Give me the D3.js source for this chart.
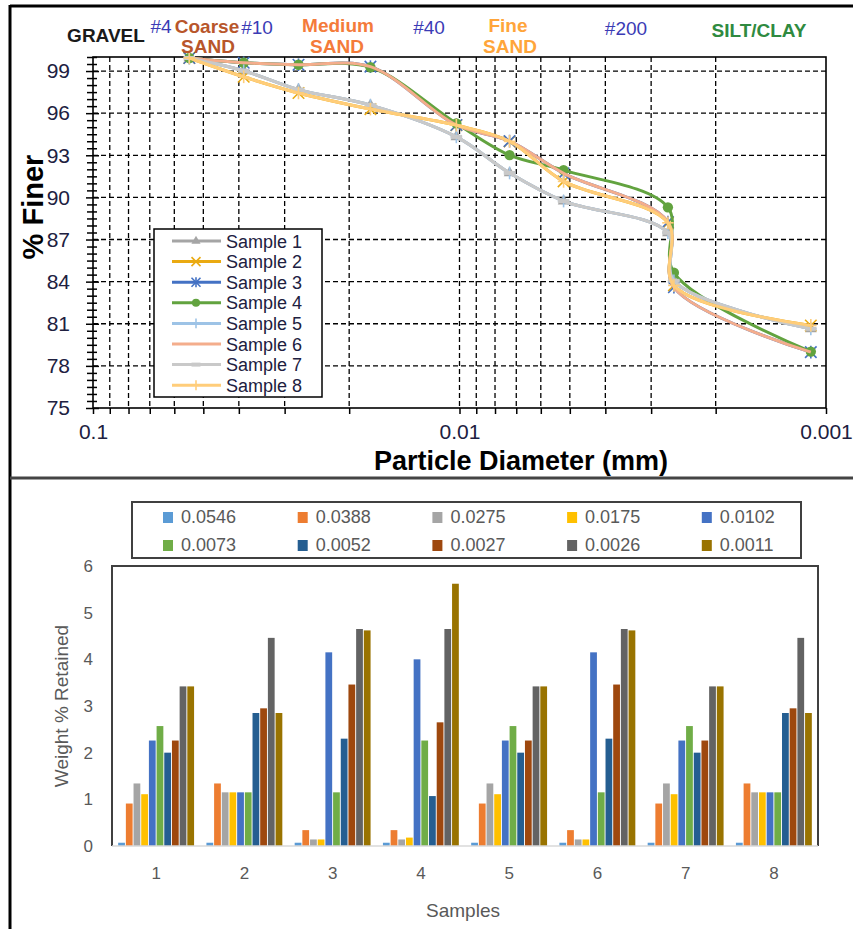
<!DOCTYPE html>
<html>
<head>
<meta charset="utf-8">
<script src="https://cdn.jsdelivr.net/npm/d3@7"></script>
<style>
	body { margin: 0; background: #fff; }
	svg { display: block; font-family: "Liberation Sans", Arial, sans-serif; }
</style>
</head>
<body>
<svg id="chart" width="853" height="929"></svg>
<script>
// particle sizes (mm), same for both charts
let diameters = [0.0546, 0.0388, 0.0275, 0.0175, 0.0102, 0.0073, 0.0052, 0.0027, 0.0026, 0.0011];
let sizeLabels = ['0.0546', '0.0388', '0.0275', '0.0175', '0.0102', '0.0073', '0.0052', '0.0027', '0.0026', '0.0011'];
let sampleNames = ['Sample 1', 'Sample 2', 'Sample 3', 'Sample 4', 'Sample 5', 'Sample 6', 'Sample 7', 'Sample 8'];
let sampleNums = ['1', '2', '3', '4', '5', '6', '7', '8'];

// % finer
let finer1 = [99.93, 99.02, 97.68, 96.57, 94.31, 91.74, 89.74, 87.48, 84.06, 80.64];
let finer2 = [99.93, 98.59, 97.44, 96.29, 95.14, 93.99, 91.14, 88.19, 83.73, 80.88];
let finer3 = [99.93, 99.59, 99.45, 99.31, 95.16, 94.01, 91.71, 88.25, 83.60, 78.98];
let finer4 = [99.93, 99.59, 99.45, 99.27, 95.27, 93.01, 91.94, 89.29, 84.64, 79.02];
let finer5 = [99.93, 99.02, 97.68, 96.57, 94.31, 91.74, 89.74, 87.48, 84.06, 80.64];
let finer6 = [99.93, 99.59, 99.45, 99.31, 95.16, 94.01, 91.71, 88.25, 83.60, 78.98];
let finer7 = [99.93, 99.02, 97.68, 96.57, 94.31, 91.74, 89.74, 87.48, 84.06, 80.64];
let finer8 = [99.93, 98.59, 97.44, 96.29, 95.14, 93.99, 91.14, 88.19, 83.73, 80.88];
let finerAll = [finer1, finer2, finer3, finer4, finer5, finer6, finer7, finer8];

// weight % retained per size, one array per sample
let retained1 = [0.07, 0.91, 1.34, 1.11, 2.26, 2.57, 2.00, 2.26, 3.42, 3.42];
let retained2 = [0.07, 1.34, 1.15, 1.15, 1.15, 1.15, 2.85, 2.95, 4.46, 2.85];
let retained3 = [0.07, 0.34, 0.14, 0.14, 4.15, 1.15, 2.30, 3.46, 4.65, 4.62];
let retained4 = [0.07, 0.34, 0.14, 0.18, 4.00, 2.26, 1.07, 2.65, 4.65, 5.62];
let retained5 = [0.07, 0.91, 1.34, 1.11, 2.26, 2.57, 2.00, 2.26, 3.42, 3.42];
let retained6 = [0.07, 0.34, 0.14, 0.14, 4.15, 1.15, 2.30, 3.46, 4.65, 4.62];
let retained7 = [0.07, 0.91, 1.34, 1.11, 2.26, 2.57, 2.00, 2.26, 3.42, 3.42];
let retained8 = [0.07, 1.34, 1.15, 1.15, 1.15, 1.15, 2.85, 2.95, 4.46, 2.85];
let retainedAll = [retained1, retained2, retained3, retained4, retained5, retained6, retained7, retained8];

let finerTicks = [75, 78, 81, 84, 87, 90, 93, 96, 99];
let diameterLabels = ['0.1', '0.01', '0.001'];
let diameterLabelValues = [0.1, 0.01, 0.001];
let retainedTicks = [0, 1, 2, 3, 4, 5, 6];

// styles
let lineColors = ['#a5a5a5', '#eaaa12', '#4472c4', '#62a33f', '#9dc3e6', '#f4ad8c', '#c9c9c9', '#ffcd7a'];
let markers = ['triangle', 'cross', 'star', 'circle', 'plus', 'none', 'dash', 'plus'];
let barColors = ['#5b9bd5', '#ed7d31', '#a5a5a5', '#ffc000', '#4472c4', '#70ad47', '#255e91', '#9e480e', '#636363', '#997300'];

let svg = d3.select('#chart');

// outer frame of the picture
svg.append('line').attr('x1', 10).attr('x2', 853).attr('y1', 6).attr('y2', 6).attr('stroke', '#000').attr('stroke-width', 3);
svg.append('line').attr('x1', 10).attr('x2', 10).attr('y1', 5).attr('y2', 929).attr('stroke', '#000').attr('stroke-width', 3);
svg.append('line').attr('x1', 10).attr('x2', 853).attr('y1', 478).attr('y2', 478).attr('stroke', '#444').attr('stroke-width', 3);

gradation();
retainedBars();

// The gradation curves (top)
function gradation() {
	let left = 93, right = 826, top = 57, bottom = 408;
	let xScale = d3.scaleLog().domain([0.1, 0.001]).range([left, right]);
	let yScale = d3.scaleLinear().domain([75, 100]).range([bottom, top]);
	let g = svg.append('g');

	// dashed grid
	let logTicks = xScale.ticks().filter((d) => d < 0.0999 && d > 0.00101);
	g.selectAll('.vgrid').data(logTicks).enter().append('line')
		.attr('x1', (d) => xScale(d)).attr('x2', (d) => xScale(d))
		.attr('y1', top).attr('y2', bottom)
		.attr('stroke', '#000').attr('stroke-width', 1.3).attr('stroke-dasharray', '5,3');
	g.selectAll('.hgrid').data(finerTicks.slice(1)).enter().append('line')
		.attr('x1', left).attr('x2', right)
		.attr('y1', (d) => yScale(d)).attr('y2', (d) => yScale(d))
		.attr('stroke', '#000').attr('stroke-width', 1.3).attr('stroke-dasharray', '5,3');

	// x axis: a tick at every log step, labels on the decades
	let labelFor = (d) => {
		let k = diameterLabelValues.findIndex((v) => Math.abs(v - d) < 1e-9);
		return k < 0 ? '' : diameterLabels[k];
	};
	let xAxis = d3.axisBottom(xScale).tickValues(xScale.ticks()).tickSize(6).tickSizeOuter(0).tickPadding(10).tickFormat(labelFor);
	let xg = g.append('g').attr('transform', 'translate(0,' + bottom + ')').call(xAxis);
	xg.select('.domain').remove();
	xg.selectAll('line').attr('stroke', '#000').attr('stroke-width', 1.5);
	xg.selectAll('text').attr('font-size', 21).attr('fill', '#202040');

	// y axis with ticks crossing the axis line
	let minor = d3.range(75, 100.01, 0.5);
	let yAxis = d3.axisLeft(yScale).tickValues(minor).tickSize(6).tickSizeOuter(0).tickPadding(17)
		.tickFormat((d) => finerTicks.includes(d) ? d : '');
	let yg = g.append('g').attr('transform', 'translate(' + left + ',0)').call(yAxis);
	yg.select('.domain').remove();
	yg.selectAll('.tick line').attr('x2', (d) => finerTicks.includes(d) ? -7 : -6).attr('x1', (d) => finerTicks.includes(d) ? 6 : 4)
		.attr('stroke', '#000').attr('stroke-width', 1.5);
	yg.selectAll('text').attr('font-size', 21).attr('fill', '#202040');

	// frame
	g.append('rect').attr('x', left).attr('y', top).attr('width', right - left).attr('height', bottom - top)
		.attr('fill', 'none').attr('stroke', '#000').attr('stroke-width', 1.6);

	// curves
	let line = d3.line().x((d, i) => xScale(diameters[i])).y((d) => yScale(d)).curve(d3.curveCatmullRom.alpha(0.5));
	finerAll.forEach((series, s) => {
		g.append('path').attr('d', line(series)).attr('fill', 'none')
			.attr('stroke', lineColors[s]).attr('stroke-width', 3).attr('stroke-linejoin', 'round');
		series.forEach((v, i) => marker(g, markers[s], lineColors[s], xScale(diameters[i]), yScale(v), 1.15));
	});

	// legend
	let lx = 154, ly = 229;
	g.append('rect').attr('x', lx).attr('y', ly).attr('width', 168).attr('height', 168)
		.attr('fill', '#fff').attr('stroke', '#000').attr('stroke-width', 1.5);
	sampleNames.forEach((name, s) => {
		let yy = ly + 12 + s * 20.6;
		g.append('line').attr('x1', lx + 18).attr('x2', lx + 67).attr('y1', yy).attr('y2', yy)
			.attr('stroke', lineColors[s]).attr('stroke-width', 3);
		marker(g, markers[s], lineColors[s], lx + 42, yy, 0.9);
		g.append('text').attr('x', lx + 72).attr('y', yy + 6.5).attr('font-size', 18).attr('fill', '#202040').text(name);
	});

	// axis titles
	g.append('text').attr('x', 521).attr('y', 470).attr('text-anchor', 'middle')
		.attr('font-size', 27).attr('font-weight', 'bold').attr('fill', '#000').text('Particle Diameter (mm)');
	g.append('text').attr('transform', 'translate(43,207) rotate(-90)').attr('text-anchor', 'middle')
		.attr('font-size', 29).attr('font-weight', 'bold').attr('fill', '#000').text('% Finer');

	// soil classes and sieve numbers along the top
	let head = [
		{ t: 'GRAVEL', x: 106, y: 42, c: '#1a1a1a', b: true },
		{ t: '#4', x: 161, y: 33, c: '#3b3bb5', b: false },
		{ t: 'Coarse', x: 207, y: 33, c: '#b8562b', b: true },
		{ t: 'SAND', x: 208, y: 53, c: '#b8562b', b: true },
		{ t: '#10', x: 257, y: 34, c: '#3b3bb5', b: false },
		{ t: 'Medium', x: 338, y: 32, c: '#f47b3a', b: true },
		{ t: 'SAND', x: 337, y: 53, c: '#f47b3a', b: true },
		{ t: '#40', x: 429, y: 34, c: '#3b3bb5', b: false },
		{ t: 'Fine', x: 508, y: 32, c: '#ffa53a', b: true },
		{ t: 'SAND', x: 510, y: 53, c: '#ffa53a', b: true },
		{ t: '#200', x: 626, y: 35, c: '#3b3bb5', b: false },
		{ t: 'SILT/CLAY', x: 759, y: 37, c: '#2f8a40', b: true }
	];
	head.forEach((h) => {
		g.append('text').attr('x', h.x).attr('y', h.y).attr('text-anchor', 'middle')
			.attr('font-size', 19).attr('font-weight', h.b ? 'bold' : 'normal').attr('fill', h.c).text(h.t);
	});
}

// draws one marker of the given type
function marker(g, type, color, cx, cy, k) {
	if (type === 'none') return;
	if (type === 'circle') {
		g.append('circle').attr('cx', cx).attr('cy', cy).attr('r', 4.5 * k).attr('fill', color);
	} else if (type === 'triangle') {
		g.append('path').attr('d', d3.symbol(d3.symbolTriangle, 45 * k * k)()).attr('transform', `translate(${cx},${cy})`).attr('fill', color);
	} else {
		let r = 5 * k;
		let segs = [];
		if (type === 'cross' || type === 'star') segs.push([-r, -r, r, r], [-r, r, r, -r]);
		if (type === 'star' || type === 'plus') segs.push([0, -r * 1.1, 0, r * 1.1]);
		if (type === 'plus' || type === 'dash') segs.push([-r, 0, r, 0]);
		segs.forEach((s) => {
			g.append('line').attr('x1', cx + s[0]).attr('y1', cy + s[1]).attr('x2', cx + s[2]).attr('y2', cy + s[3])
				.attr('stroke', color).attr('stroke-width', type === 'dash' ? 4 : 1.6);
		});
	}
}

// The weight retained bars (bottom)
function retainedBars() {
	let left = 112, right = 818, top = 566, bottom = 846;
	let grey = '#595959';
	let xScale = d3.scaleBand().domain(sampleNums).range([left, right]).paddingInner(0.14).paddingOuter(0.07);
	let xInner = d3.scaleBand().domain(sizeLabels).range([0, xScale.bandwidth()]).paddingInner(0.12);
	let yScale = d3.scaleLinear().domain([0, 6]).range([bottom, top]);
	let g = svg.append('g');

	let groups = g.selectAll('.grp').data(retainedAll).enter().append('g')
		.attr('transform', (d, i) => 'translate(' + xScale(sampleNums[i]) + ',0)');
	groups.selectAll('rect').data((d) => d).enter().append('rect')
		.attr('x', (d, i) => xInner(sizeLabels[i]))
		.attr('y', (d) => yScale(d))
		.attr('width', xInner.bandwidth())
		.attr('height', (d) => bottom - yScale(d))
		.attr('fill', (d, i) => barColors[i]);

	// plot frame: dark on three sides, light axis line at the bottom
	g.append('path').attr('d', `M${left},${bottom}V${top}H${right}V${bottom}`)
		.attr('fill', 'none').attr('stroke', '#404040').attr('stroke-width', 2);
	g.append('line').attr('x1', left).attr('x2', right).attr('y1', bottom).attr('y2', bottom)
		.attr('stroke', '#d9d9d9').attr('stroke-width', 1.5);

	let yAxis = d3.axisLeft(yScale).tickValues(retainedTicks).tickFormat(d3.format('d')).tickSize(0).tickPadding(19);
	let yg = g.append('g').attr('transform', 'translate(' + left + ',0)').call(yAxis);
	yg.select('.domain').remove();
	yg.selectAll('text').attr('font-size', 17).attr('fill', grey);

	let xAxis = d3.axisBottom(xScale).tickSize(0).tickPadding(21);
	let xg = g.append('g').attr('transform', 'translate(0,' + bottom + ')').call(xAxis);
	xg.select('.domain').remove();
	xg.selectAll('text').attr('font-size', 17).attr('fill', grey);

	g.append('text').attr('x', 463).attr('y', 917).attr('text-anchor', 'middle')
		.attr('font-size', 19).attr('fill', grey).text('Samples');
	g.append('text').attr('transform', 'translate(68,706) rotate(-90)').attr('text-anchor', 'middle')
		.attr('font-size', 19).attr('fill', grey).text('Weight % Retained');

	// legend, two rows of five
	g.append('rect').attr('x', 132).attr('y', 502).attr('width', 669).attr('height', 56)
		.attr('fill', '#fff').attr('stroke', '#404040').attr('stroke-width', 2);
	sizeLabels.forEach((lab, i) => {
		let col = i % 5, row = Math.floor(i / 5);
		let sx = 163 + col * 134.7, sy = 512 + row * 28;
		g.append('rect').attr('x', sx).attr('y', sy).attr('width', 10).attr('height', 11).attr('fill', barColors[i]);
		g.append('text').attr('x', sx + 18).attr('y', sy + 11).attr('font-size', 18).attr('fill', grey).text(lab);
	});
}
</script>
</body>
</html>
